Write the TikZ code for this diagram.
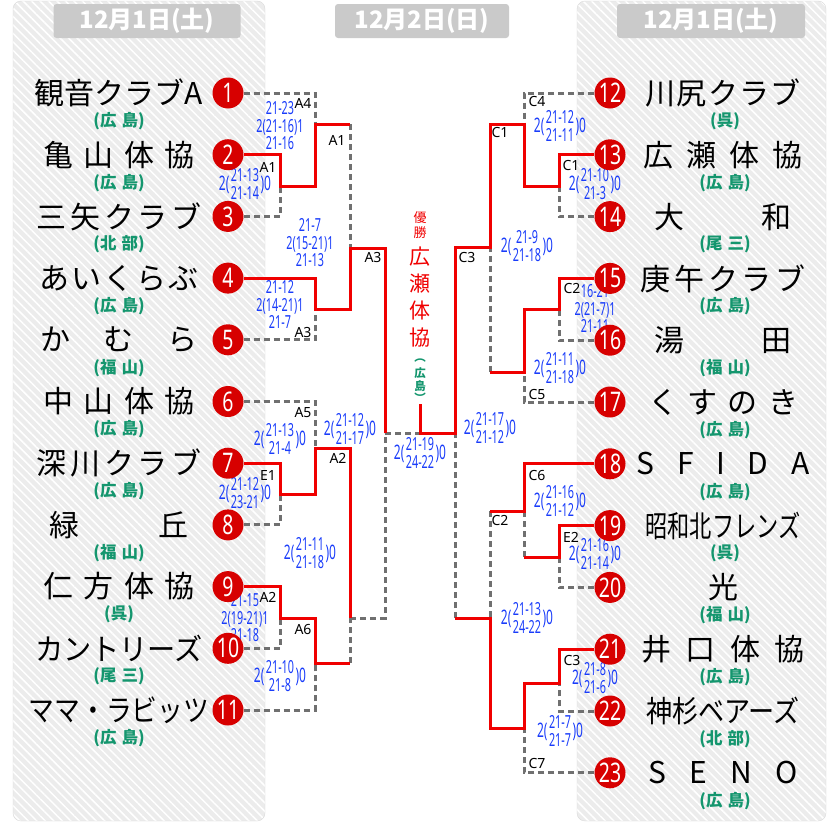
\documentclass[tikz,border=0pt]{standalone}
\usepackage{fontspec}
\usepackage{graphicx}
\setmainfont{Noto Sans CJK JP}
\newfontfamily\latinfont{Noto Sans}
\newfontfamily\scorefont[FakeStretch=0.6]{Noto Sans}
\newfontfamily\seedfont[FakeStretch=0.72]{Noto Sans}
\usetikzlibrary{patterns.meta}
\definecolor{winRed}{RGB}{240,0,0}
\definecolor{seedRed}{RGB}{215,0,0}
\definecolor{loseGray}{RGB}{112,112,112}
\definecolor{scoreBlue}{RGB}{25,60,250}
\definecolor{placeGreen}{RGB}{20,150,110}
\definecolor{panelGray}{RGB}{236,236,236}
\definecolor{dateGray}{RGB}{202,202,202}
\newcommand{\spreadname}[2]{\makebox[#1pt][s]{#2}}
\newcommand{\squeezename}[2]{\scalebox{#1}[1]{#2}}
\newcommand{\twoset}[2]{{\fontsize{20}{20}\selectfont 2(}\hspace{1.5pt}\begin{tabular}{@{}c@{}}#1\\#2\end{tabular}\hspace{1.5pt}{\fontsize{20}{20}\selectfont )0}}
\newcommand{\threeset}[3]{\begin{tabular}{@{}c@{}}#1\\#2\\#3\end{tabular}}

\begin{document}
\begin{tikzpicture}[x=1pt,y=-1pt,
  seed/.style={circle,fill=seedRed,text=white,minimum size=31pt,inner sep=0pt,font=\seedfont\bfseries\fontsize{27}{27}\selectfont},
  tname/.style={font=\fontsize{30}{30}\selectfont,inner sep=0pt},
  tplace/.style={font=\bfseries\fontsize{16.5}{16.5}\selectfont,text=placeGreen,inner sep=0pt},
  score/.style={font=\scorefont\fontsize{18}{15.5}\selectfont,text=scoreBlue,inner sep=0pt},
  court/.style={font=\latinfont\fontsize{14}{14}\selectfont,inner sep=0pt},
  win/.style={winRed,line width=3pt},
  lose/.style={loseGray,line width=3pt,dash pattern=on 6pt off 4pt},
  datebox/.style={fill=dateGray,rounded corners=3pt,text=white,font=\bfseries\fontsize{24}{24}\selectfont,minimum height=34pt,inner sep=0pt},
  panel/.style={rounded corners=8pt}
]
\useasboundingbox (0,0) rectangle (840,835);
\fill[panel,panelGray] (13,1) rectangle (265,821);
\fill[panel,pattern={Lines[angle=-45,distance=6pt,line width=1.5pt]},pattern color=white] (13,1) rectangle (265,821);
\draw[panel,black!15] (13,1) rectangle (265,821);
\fill[panel,panelGray] (577,1) rectangle (826,821);
\fill[panel,pattern={Lines[angle=-45,distance=6pt,line width=1.5pt]},pattern color=white] (577,1) rectangle (826,821);
\draw[panel,black!15] (577,1) rectangle (826,821);

\node[datebox,minimum width=187pt] (d1) at (147,21) {12月1日(土)};
\node[datebox,minimum width=174pt] (d2) at (422,21) {12月2日(日)};
\node[datebox,minimum width=188pt] (d3) at (711,21) {12月1日(土)};

\node[score] (s1) at (280,128) {\threeset{21-23}{2(21-16)1}{21-16}};
\node[score] (s2) at (245,186) {\twoset{21-13}{21-14}};
\node[score] (s3) at (310,245) {\threeset{21-7}{2(15-21)1}{21-13}};
\node[score] (s4) at (280,307) {\threeset{21-12}{2(14-21)1}{21-7}};
\node[score] (s5) at (280,441) {\twoset{21-13}{21-4}};
\node[score] (s6) at (245,495) {\twoset{21-12}{23-21}};
\node[score] (s7) at (350,431) {\twoset{21-12}{21-17}};
\node[score] (s8) at (310,555) {\twoset{21-11}{21-18}};
\node[score] (s9) at (245,620) {\threeset{21-15}{2(19-21)1}{21-18}};
\node[score] (s10) at (280,678) {\twoset{21-10}{21-8}};
\node[score] (s11) at (420,455) {\twoset{21-19}{24-22}};
\node[score] (s12) at (560,128) {\twoset{21-12}{21-11}};
\node[score] (s13) at (595,186) {\twoset{21-10}{21-3}};
\node[score] (s14) at (527,248) {\twoset{21-9}{21-18}};
\node[score] (s15) at (595,311) {\threeset{16-21}{2(21-7)1}{21-11}};
\node[score] (s16) at (560,370) {\twoset{21-11}{21-18}};
\node[score] (s17) at (490,430) {\twoset{21-17}{21-12}};
\node[score] (s18) at (560,503) {\twoset{21-16}{21-12}};
\node[score] (s19) at (595,556) {\twoset{21-16}{21-14}};
\node[score] (s20) at (527,620) {\twoset{21-13}{24-22}};
\node[score] (s21) at (595,680) {\twoset{21-8}{21-6}};
\node[score] (s22) at (560,733) {\twoset{21-7}{21-7}};

\foreach \lbl/\x/\y [count=\k] in {A4/303/103,A1/268/167,A1/337/140,A3/303/332,A3/373/257,A5/303/413,E1/268/475,A2/338/458,A2/268/597,A6/303/629,
  C4/537/102,C1/571/165,C1/500/133,C3/467/257,C2/572/288,C5/537/394,C6/537/475,E2/571/537,C2/500/520,C3/572/660,C7/537/763}
  \node[court] (c\k) at (\x,\y) {\lbl};

\foreach \i/\nm/\pl in {1/{観音クラブA}/{広\hspace{5pt}島},
  2/{\spreadname{152}{亀\hfil 山\hfil 体\hfil 協}}/{広\hspace{5pt}島},
  3/{\spreadname{165}{三\hfil 矢\hfil ク\hfil ラ\hfil ブ}}/{北\hspace{5pt}部},
  4/{\spreadname{160}{あ\hfil い\hfil く\hfil ら\hfil ぶ}}/{広\hspace{5pt}島},
  5/{\spreadname{158}{か\hfil む\hfil ら}}/{福\hspace{5pt}山},
  6/{\spreadname{152}{中\hfil 山\hfil 体\hfil 協}}/{広\hspace{5pt}島},
  7/{\spreadname{165}{深\hfil 川\hfil ク\hfil ラ\hfil ブ}}/{広\hspace{5pt}島},
  8/{\spreadname{140}{緑\hfil 丘}}/{福\hspace{5pt}山},
  9/{\spreadname{152}{仁\hfil 方\hfil 体\hfil 協}}/{呉},
  10/{\squeezename{0.94}{カントリーズ}}/{尾\hspace{5pt}三},
  11/{\squeezename{0.86}{ママ・ラビッツ}}/{広\hspace{5pt}島}} {
  \pgfmathsetmacro\y{93+61.7*(\i-1)}
  \node[seed] (t\i) at (228,\y) {\i};
  \node[tname] (n\i) at (119,\y) {\nm};
  \node[tplace] (p\i) at (119,\y+28) {(\pl)};
}
\foreach \i/\nm/\pl in {12/{\spreadname{155}{川\hfil 尻\hfil ク\hfil ラ\hfil ブ}}/{呉},
  13/{\spreadname{160}{広\hfil 瀬\hfil 体\hfil 協}}/{広\hspace{5pt}島},
  14/{\spreadname{137}{大\hfil 和}}/{尾\hspace{5pt}三},
  15/{\spreadname{165}{庚\hfil 午\hfil ク\hfil ラ\hfil ブ}}/{広\hspace{5pt}島},
  16/{\spreadname{137}{湯\hfil 田}}/{福\hspace{5pt}山},
  17/{\spreadname{150}{く\hfil す\hfil の\hfil き}}/{広\hspace{5pt}島},
  18/{\spreadname{173}{S\hfil F\hfil I\hfil D\hfil A}}/{広\hspace{5pt}島},
  19/{\squeezename{0.74}{昭和北フレンズ}}/{呉},
  20/{光}/{福\hspace{5pt}山},
  21/{\spreadname{163}{井\hfil 口\hfil 体\hfil 協}}/{広\hspace{5pt}島},
  22/{\squeezename{0.87}{神杉ベアーズ}}/{北\hspace{5pt}部},
  23/{\spreadname{150}{S\hfil E\hfil N\hfil O}}/{広\hspace{5pt}島}} {
  \pgfmathsetmacro\y{93+61.8*(\i-12)}
  \node[seed] (t\i) at (610,\y) {\i};
  \node[tname] (n\i) at (723,\y) {\nm};
  \node[tplace] (p\i) at (725,\y+28) {(\pl)};
}

\coordinate (m1) at (280,186);
\coordinate (m2) at (315,124);
\coordinate (m3) at (315,309);
\coordinate (m4) at (350,248);
\coordinate (m5) at (385,433);
\coordinate (m6) at (280,494);
\coordinate (m7) at (315,448);
\coordinate (m8) at (280,618);
\coordinate (m9) at (315,663);
\coordinate (m10) at (350,618);
\coordinate (fin) at (420,433);
\coordinate (stem) at (420,404);
\coordinate (m11) at (559,186);
\coordinate (m12) at (524,124);
\coordinate (m13) at (559,309);
\coordinate (m14) at (524,372);
\coordinate (m15) at (490,247);
\coordinate (m16) at (455,433);
\coordinate (m17) at (559,557);
\coordinate (m18) at (524,511);
\coordinate (m19) at (559,683);
\coordinate (m20) at (524,728);
\coordinate (m21) at (490,618);

\draw[lose] (t1) -| (m2);
\draw[lose] (t3) -| (m1);
\draw[lose] (m2 -| m4) -- (m4);
\draw[lose] (t5) -| (m3);
\draw[lose] (m5) -- (fin);
\draw[lose] (t6) -| (m7);
\draw[lose] (t8) -| (m6);
\draw[lose] (t10) -| (m8);
\draw[lose] (t11) -| (m9);
\draw[lose] (m9 -| m10) -- (m10);
\draw[lose] (m10) -| (m5);
\draw[lose] (t12) -| (m12);
\draw[lose] (t14) -| (m11);
\draw[lose] (t16) -| (m13);
\draw[lose] (t17) -| (m14);
\draw[lose] (m14 -| m15) -- (m15);
\draw[lose] (m18 -| m15) -- (m21);
\draw[lose] (m17 -| m18) -- (m18);
\draw[lose] (t20) -| (m17);
\draw[lose] (t22) -| (m19);
\draw[lose] (t23) -| (m20);
\draw[lose] (m21 -| m16) -- (m16);

\draw[win] (t2) -| (m1) -| (m2) -- (m2 -| m4);
\draw[win] (t4) -| (m3) -| (m4) -| (m5);
\draw[win] (t7) -| (m6) -| (m7) -| (m10);
\draw[win] (t9) -| (m8) -| (m9) -- (m9 -| m10);
\draw[win] (t13) -| (m11) -| (m12) -| (m15) -| (m16) -- (fin) -- (stem);
\draw[win] (t15) -| (m13) -| (m14) -- (m14 -| m15);
\draw[win] (t18) -| (m18) -- (m18 -| m15);
\draw[win] (t19) -| (m17) -- (m17 -| m18);
\draw[win] (t21) -| (m19) -| (m20) -| (m21) -- (m21 -| m16);

\foreach \c/\y [count=\k] in {優/218,勝/233}
  \node[font=\fontsize{13}{13}\selectfont,text=winRed,inner sep=0pt] (yusho\k) at (420,\y) {\c};
\foreach \c/\y [count=\k] in {広/257,瀬/284,体/311,協/338}
  \node[font=\fontsize{21}{21}\selectfont,text=winRed,inner sep=0pt] (champ\k) at (420,\y) {\c};
\foreach \c/\y [count=\k] in {︵/361,広/373,島/386,︶/398}
  \node[font=\bfseries\fontsize{11.5}{11.5}\selectfont,text=placeGreen,inner sep=0pt] (home\k) at (420,\y) {\c};
\end{tikzpicture}
\end{document}
